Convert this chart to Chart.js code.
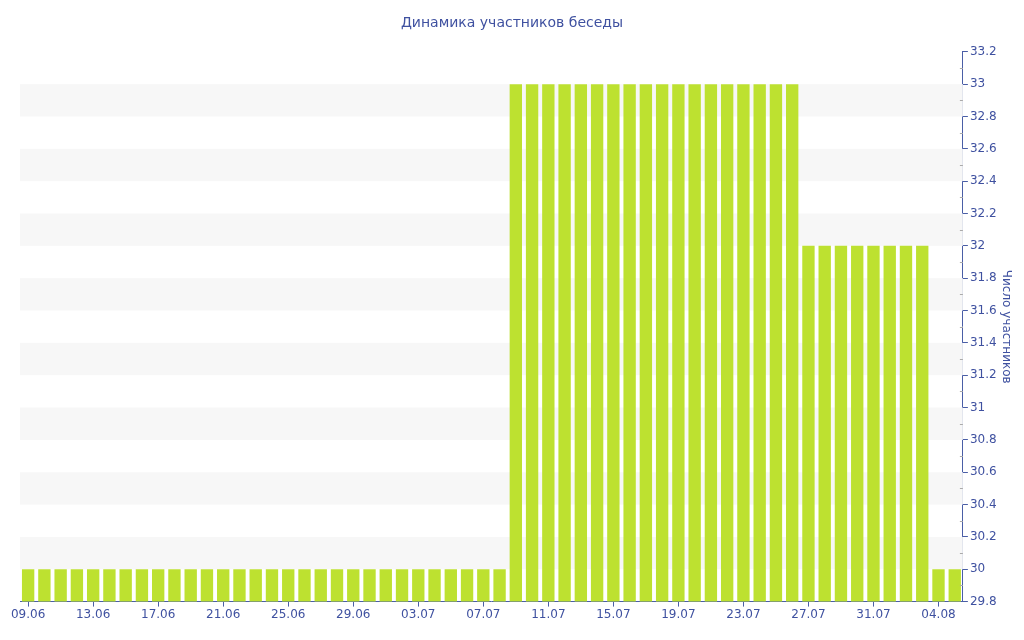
<!DOCTYPE html>
<html>
<head>
<meta charset="utf-8">
<script src="https://cdn.jsdelivr.net/npm/chart.js@4"></script>
<style>
  body { margin: 0; background: #fff; }
  #wrap { width: 1024px; height: 640px; }
</style>
</head>
<body>
<div id="wrap"><canvas id="membersChart"></canvas></div>
<script>
// даты (09.06 - 05.08)
const days = [
  '09.06', '10.06', '11.06', '12.06', '13.06', '14.06', '15.06', '16.06', '17.06', '18.06',
  '19.06', '20.06', '21.06', '22.06', '23.06', '24.06', '25.06', '26.06', '27.06', '28.06',
  '29.06', '30.06', '01.07', '02.07', '03.07', '04.07', '05.07', '06.07', '07.07', '08.07',
  '09.07', '10.07', '11.07', '12.07', '13.07', '14.07', '15.07', '16.07', '17.07', '18.07',
  '19.07', '20.07', '21.07', '22.07', '23.07', '24.07', '25.07', '26.07', '27.07', '28.07',
  '29.07', '30.07', '31.07', '01.08', '02.08', '03.08', '04.08', '05.08'
];

// число участников по дням
const members = [
  30, 30, 30, 30, 30, 30, 30, 30, 30, 30,
  30, 30, 30, 30, 30, 30, 30, 30, 30, 30,
  30, 30, 30, 30, 30, 30, 30, 30, 30, 30,
  33, 33, 33, 33, 33, 33, 33, 33, 33, 33,
  33, 33, 33, 33, 33, 33, 33, 33, 32, 32,
  32, 32, 32, 32, 32, 32, 30, 30
];

const yMin = 29.8;
const yMax = 33.2;
const yStep = 0.2;

const textColor = '#3f51a0';
const axisColor = '#4a5ea6';
const barColor = '#bde130';
const bandColor = '#f7f7f7';

// полосы фона между делениями
const bandsPlugin = {
  id: 'bands',
  beforeDatasetsDraw(chart) {
    const { ctx, chartArea, scales } = chart;
    const ticks = scales.y.ticks;
    ctx.save();
    ctx.fillStyle = bandColor;
    for (let i = 1; i + 1 < ticks.length; i += 2) {
      const top = scales.y.getPixelForValue(ticks[i + 1].value);
      const bottom = scales.y.getPixelForValue(ticks[i].value);
      ctx.fillRect(chartArea.left, top, chartArea.right - chartArea.left, bottom - top);
    }
    ctx.restore();
  }
};

// мелкие засечки на правой оси
const minorTicksPlugin = {
  id: 'minorTicks',
  afterDraw(chart) {
    const { ctx, scales } = chart;
    const ticks = scales.y.ticks;
    const x = scales.y.left;
    ctx.save();
    ctx.strokeStyle = '#aaaaaa';
    ctx.lineWidth = 1;
    for (let i = 0; i + 1 < ticks.length; i++) {
      const mid = (ticks[i].value + ticks[i + 1].value) / 2;
      const py = Math.round(scales.y.getPixelForValue(mid)) + 0.5;
      ctx.beginPath();
      ctx.moveTo(x - 3, py);
      ctx.lineTo(x, py);
      ctx.stroke();
    }
    ctx.restore();
  }
};

new Chart(document.getElementById('membersChart'), {
  type: 'bar',
  data: {
    labels: days,
    datasets: [{
      label: 'Число участников',
      data: members,
      backgroundColor: barColor,
      barPercentage: 0.76,
      categoryPercentage: 1.0
    }]
  },
  options: {
    responsive: true,
    maintainAspectRatio: false,
    animation: false,
    layout: {
      padding: { left: 0, right: 0, top: 4, bottom: 17 }
    },
    plugins: {
      legend: { display: false },
      tooltip: { enabled: false },
      title: {
        display: true,
        text: 'Динамика участников беседы',
        color: textColor,
        font: { family: 'DejaVu Sans', size: 14, weight: 'normal' },
        padding: { top: 11, bottom: 20 }
      }
    },
    scales: {
      x: {
        offset: true,
        grid: {
          offset: false,
          drawOnChartArea: false,
          drawTicks: true,
          tickLength: 5,
          color: ctx => (ctx.index % 4 === 0 ? axisColor : 'rgba(0,0,0,0)')
        },
        border: { color: axisColor, width: 1 },
        ticks: {
          autoSkip: false,
          maxRotation: 0,
          minRotation: 0,
          padding: 1,
          color: textColor,
          font: { family: 'DejaVu Sans', size: 12 },
          callback: function (value, index) {
            return index % 4 === 0 ? this.getLabelForValue(value) : '';
          }
        }
      },
      y: {
        position: 'right',
        min: yMin,
        max: yMax,
        grid: {
          drawOnChartArea: false,
          drawTicks: true,
          tickLength: 5,
          color: axisColor
        },
        border: { color: axisColor, width: 1 },
        ticks: {
          stepSize: yStep,
          padding: 2,
          color: textColor,
          font: { family: 'DejaVu Sans', size: 12 },
          callback: value => String(Number(value.toFixed(1)))
        },
        title: {
          display: true,
          text: 'Число участников',
          color: textColor,
          font: { family: 'DejaVu Sans', size: 12 },
          padding: { top: 11, bottom: 0 }
        }
      },
      // пустое поле слева от графика
      spacer: {
        position: 'left',
        display: true,
        grid: { display: false },
        border: { display: false },
        ticks: { display: false },
        afterFit: scale => { scale.width = 20; }
      }
    }
  },
  plugins: [bandsPlugin, minorTicksPlugin]
});
</script>
</body>
</html>
